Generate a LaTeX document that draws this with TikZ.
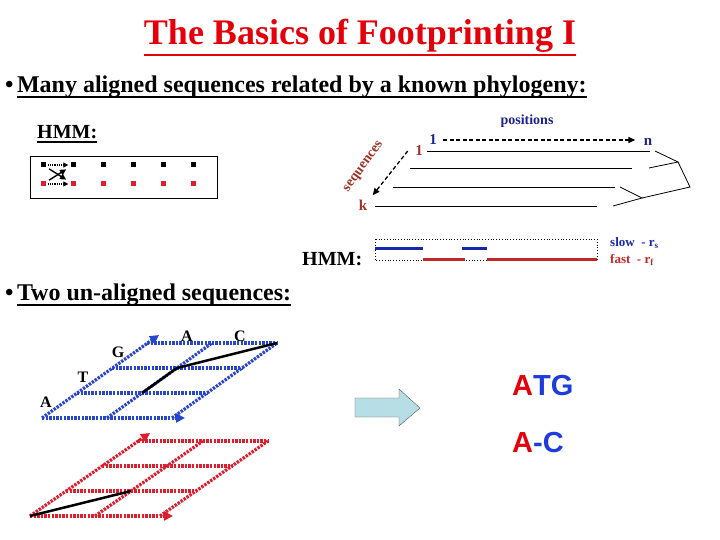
\documentclass[tikz,border=0pt]{standalone}
\usepackage{fontspec}
\setmainfont{Liberation Serif}
\newfontfamily\arialfont{Liberation Sans}
\usetikzlibrary{arrows.meta,calc}
\definecolor{ctitle}{RGB}{228,0,10}
\definecolor{cnavy}{RGB}{30,35,140}
\definecolor{cbrown}{RGB}{160,50,40}
\definecolor{cgrid}{RGB}{40,70,205}
\definecolor{cgridred}{RGB}{222,30,45}
\definecolor{cslow}{RGB}{20,40,170}
\definecolor{cfast}{RGB}{195,40,40}
\definecolor{carrow}{RGB}{182,222,228}
\definecolor{catg}{RGB}{30,60,220}
\tikzset{
  px/.style={x=1pt,y=-1pt},
  txt/.style={inner sep=0pt,anchor=base west},
  sq/.style={minimum size=5pt,inner sep=0pt,fill=#1},
  griddot/.style={color=#1,line width=3.2pt,dash pattern=on 2.4pt off 1.2pt},
  gridtip/.style={-{Triangle[length=9pt,width=9pt]}},
  blackdash/.style={line width=1.3pt,dash pattern=on 4pt off 2.5pt,-{Triangle[length=7pt,width=6pt]}},
  seqline/.style={line width=0.8pt},
}

\begin{document}
\begin{tikzpicture}[px]
  \useasboundingbox (0,0) rectangle (720,540);
  % title and first bullet
  \node[txt,anchor=base,font=\fontsize{36}{40}\selectfont\bfseries,text=ctitle] (title) at (360,45) {The Basics of Footprinting I};
  \draw[ctitle,line width=2.5pt] ($(title.base west)+(0,10)$) -- ($(title.base east)+(0,10)$);
  \node[txt,font=\fontsize{24}{26}\selectfont\bfseries] (bul1) at (5,93) {•};
  \node[txt,font=\fontsize{24}{26}\selectfont\bfseries] (many) at ($(bul1.base east)+(3,0)$) {Many aligned sequences related by a known phylogeny:};
  \draw[line width=2pt] ($(many.base west)+(0,4.5)$) -- ($(many.base east)+(0,4.5)$);

  % HMM with two rows of states
  \node[txt,font=\fontsize{20}{22}\selectfont\bfseries] (hmm1) at (37,139) {HMM:};
  \draw[line width=1.5pt] ($(hmm1.base west)+(0,3)$) -- ($(hmm1.base east)+(0,3)$);
  \draw[line width=0.8pt] (30,156) rectangle (217,198);
  \foreach \k in {0,...,5} {
    \node[sq=black] (hk\k) at ({43+30*\k},165) {};
    \node[sq=cgridred] (hr\k) at ({43+30*\k},184) {};
  }
  \draw[line width=1.2pt,densely dotted,-{Triangle[length=5pt,width=5pt]},shorten <=2pt,shorten >=2pt] (hk0) -- (hk1);
  \draw[line width=1.2pt,densely dotted,-{Triangle[length=5pt,width=5pt]},shorten <=2pt,shorten >=2pt] (hr0) -- (hr1);
  \draw[line width=1.4pt,-{Triangle[length=6pt,width=6pt]},shorten <=4pt,shorten >=5pt] (hk0) -- (hr1);
  \draw[line width=1.4pt,-{Triangle[length=6pt,width=6pt]},shorten <=4pt,shorten >=5pt] (hr0) -- (hk1);

  % aligned sequences on a tree
  \node[font=\fontsize{14}{16}\selectfont\bfseries,text=cnavy] (posn) at (527,121) {positions};
  \node[font=\fontsize{15}{17}\selectfont\bfseries,text=cnavy] (p1) at (433,140) {1};
  \node[font=\fontsize{15}{17}\selectfont\bfseries,text=cnavy] (pn) at (648,142) {n};
  \node[font=\fontsize{15}{17}\selectfont\bfseries,text=cbrown] (s1) at (419,151) {1};
  \node[font=\fontsize{15}{17}\selectfont\bfseries,text=cbrown] (sk) at (363,205) {k};
  \node[rotate=54,inner sep=0pt,font=\fontsize{14}{16}\selectfont\bfseries,text=cbrown] (seqlab) at (364,167) {sequences};
  \draw[blackdash] ([xshift=3pt]p1.east) -- ([xshift=-5pt]p1.east -| pn.west);
  \draw[blackdash] ([xshift=-4pt]s1.west) -- ([xshift=2pt,yshift=1pt]sk.north east);
  \draw[seqline] (427,151) -- (650,151);
  \draw[seqline] (410,168) -- (632,168);
  \draw[seqline] (393,187) -- (615,187);
  \draw[seqline] (375,206) -- (597,206);
  \draw[seqline] (655,151) -- (678,162) -- (649,168);
  \draw[seqline] (678,162) -- (690,187) -- (642,198);
  \draw[seqline] (620,187) -- (642,198) -- (613,206);

  % two-state HMM along the positions
  \node[txt,font=\fontsize{20}{22}\selectfont\bfseries] (hmm2) at (302,265) {HMM:};
  \draw[dotted,line width=0.8pt] (375,239) rectangle (597,260);
  \draw[cslow,line width=3pt] (375,248) -- (423,248);
  \draw[cslow,line width=3pt] (462,248) -- (487,248);
  \draw[cfast,line width=3pt] (423,259) -- (465,259);
  \draw[cfast,line width=3pt] (487,259) -- (597,259);
  \node[txt,text=cslow,font=\fontsize{13}{15}\selectfont\bfseries] (slow) at (610,247) {slow\ \ - r\textsubscript{s}};
  \node[txt,text=cfast,font=\fontsize{13}{15}\selectfont\bfseries] (fast) at (610,263) {fast\ \ - r\textsubscript{f}};

  % second bullet
  \node[txt,font=\fontsize{24}{26}\selectfont\bfseries] (bul2) at (5,300) {•};
  \node[txt,font=\fontsize{24}{26}\selectfont\bfseries] (twoun) at ($(bul2.base east)+(3,0)$) {Two un-aligned sequences:};
  \draw[line width=2pt] ($(twoun.base west)+(0,4.5)$) -- ($(twoun.base east)+(0,4.5)$);

  % blue alignment grid
  \foreach \i in {0,...,3} \foreach \j in {0,1,2}
    \coordinate (bg\i\j) at ({42+35*\i+65*\j},{418-25*\i});
  \foreach \i in {1,2,3} \draw[griddot=cgrid] (bg\i0) -- (bg\i2);
  \draw[griddot=cgrid,gridtip] (bg00) -- ($(bg02)+(13,0)$);
  \foreach \j in {1,2} \draw[griddot=cgrid] (bg0\j) -- (bg3\j);
  \draw[griddot=cgrid,gridtip] (bg00) -- ($(bg30)+(12,-8)$);
  \draw[line width=2.5pt] (bg11) -- (bg21) -- (bg32);
  \node[font=\fontsize{16}{18}\selectfont\bfseries] (la) at (46,402) {A};
  \node[font=\fontsize{16}{18}\selectfont\bfseries] (lt) at (83,377) {T};
  \node[font=\fontsize{16}{18}\selectfont\bfseries] (lg) at (118,352) {G};
  \node[font=\fontsize{16}{18}\selectfont\bfseries] (ta) at (187,336) {A};
  \node[font=\fontsize{16}{18}\selectfont\bfseries] (tc) at (240,336) {C};

  % red alignment grid
  \foreach \i in {0,...,3} \foreach \j in {0,1,2}
    \coordinate (rg\i\j) at ({30+36*\i+65*\j},{516-25*\i});
  \foreach \i in {1,2,3} \draw[griddot=cgridred] (rg\i0) -- (rg\i2);
  \draw[griddot=cgridred,gridtip] (rg00) -- ($(rg02)+(13,0)$);
  \foreach \j in {1,2} \draw[griddot=cgridred] (rg0\j) -- (rg3\j);
  \draw[griddot=cgridred,gridtip] (rg00) -- ($(rg30)+(12,-8)$);
  \draw[line width=2.5pt] (rg00) -- (rg11);

  % result
  \draw[gray!70!black,fill=carrow] (355,398) -- (399,398) -- (399,389) -- (420,408)
    -- (399,426) -- (399,417) -- (355,417) -- cycle;
  \node[txt,font=\arialfont\bfseries\fontsize{29}{32}\selectfont] (atg) at (512,395) {\textcolor{ctitle}{A}\textcolor{catg}{TG}};
  \node[txt,font=\arialfont\bfseries\fontsize{29}{32}\selectfont] (agap) at (512,452) {\textcolor{ctitle}{A}\textcolor{catg}{-C}};
\end{tikzpicture}
\end{document}
